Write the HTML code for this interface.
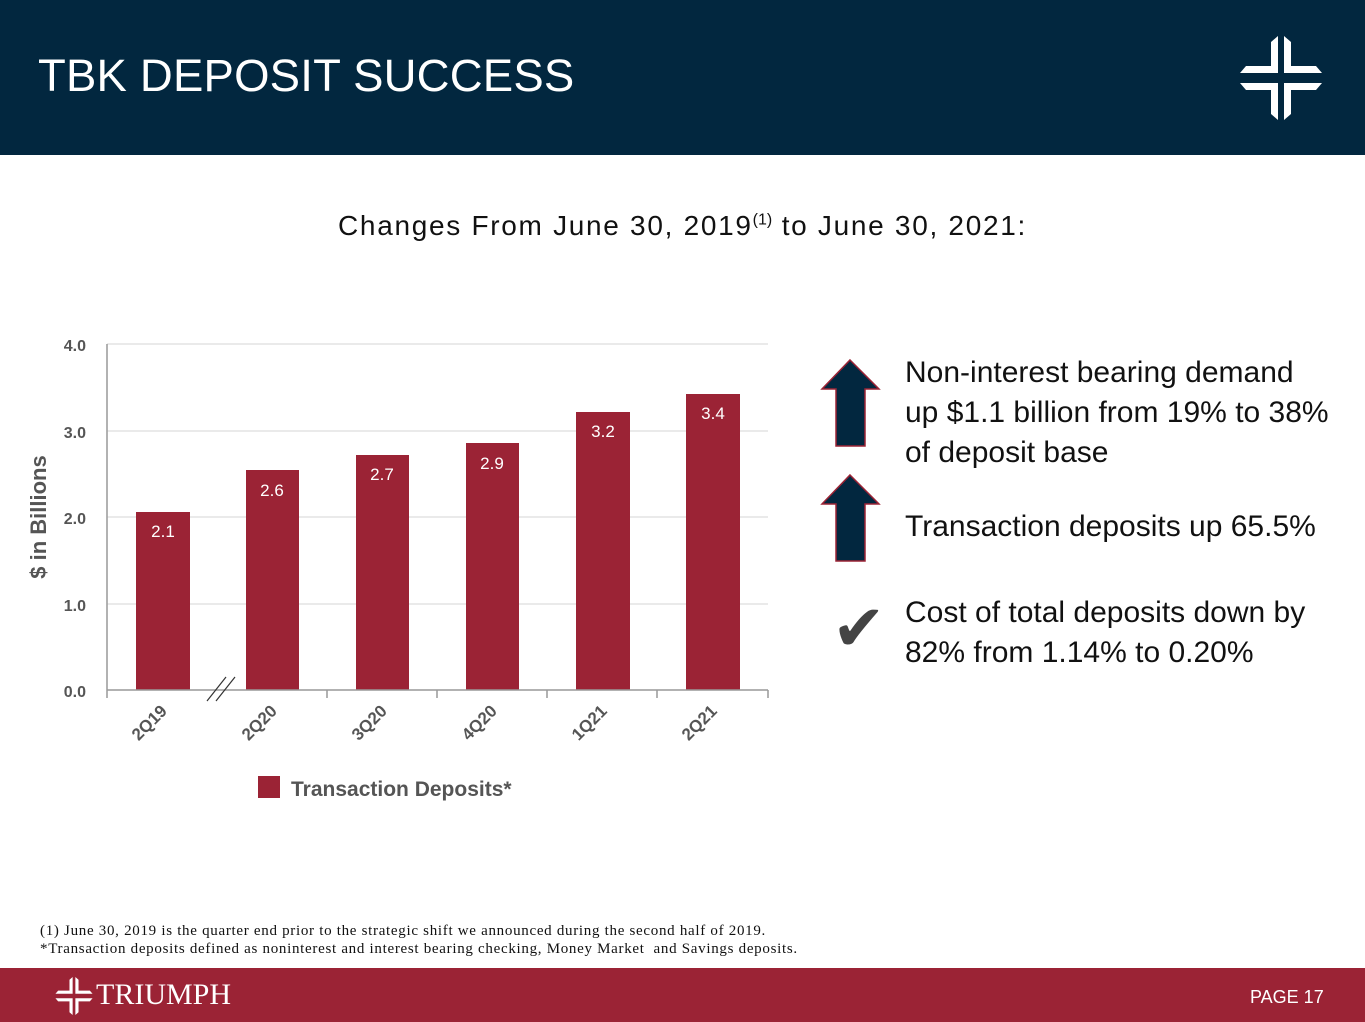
<!DOCTYPE html>
<html><head><style>
body{margin:0;width:1365px;height:1022px;position:relative;background:#fff;font-family:"Liberation Sans",sans-serif;overflow:hidden}
.hdr{position:absolute;left:0;top:0;width:1365px;height:155px;background:#02273f}
.ttl{position:absolute;left:38px;top:50px;color:#fff;font-size:45.5px;letter-spacing:0.2px}
.ftr{position:absolute;left:0;top:968px;width:1365px;height:54px;background:#9b2335}
.t{position:absolute;color:#111;font-size:30px;line-height:40px}
</style></head><body>
<div class="hdr"></div>
<div class="ttl">TBK DEPOSIT SUCCESS</div>
<svg style="position:absolute;left:1238px;top:36px" width="86" height="84" viewBox="0 0 86 84">
<g fill="#fff">
<polygon points="33,6 40,0 40,37 2,37 8,30 33,30"/>
<polygon points="46,0 53,6 53,30 78,30 84,37 46,37"/>
<polygon points="33,78 40,84 40,47 2,47 8,54 33,54"/>
<polygon points="46,84 53,78 53,54 78,54 84,47 46,47"/>
</g></svg>
<div style="position:absolute;left:0;top:210px;width:1365px;text-align:center;font-size:28px;color:#111;letter-spacing:1.7px">Changes From June 30, 2019<sup style="font-size:16px;letter-spacing:0">(1)</sup> to June 30, 2021:</div>
<svg style="position:absolute;left:0;top:0" width="800" height="820">
<g stroke="#e4e4e4" stroke-width="1.5">
<line x1="107" y1="344" x2="768" y2="344"/><line x1="107" y1="431" x2="768" y2="431"/>
<line x1="107" y1="517" x2="768" y2="517"/><line x1="107" y1="604" x2="768" y2="604"/></g>
<g fill="#9b2335">
<rect x="136" y="512" width="54" height="178"/><rect x="246" y="470" width="53" height="220"/>
<rect x="356" y="455" width="53" height="235"/><rect x="466" y="443" width="53" height="247"/>
<rect x="576" y="412" width="54" height="278"/><rect x="686" y="394" width="54" height="296"/></g>
<g stroke="#999" stroke-width="1.5" fill="none">
<line x1="107" y1="344" x2="107" y2="698"/><line x1="107" y1="690" x2="768" y2="690"/>
<line x1="327" y1="690" x2="327" y2="698"/><line x1="437" y1="690" x2="437" y2="698"/>
<line x1="547" y1="690" x2="547" y2="698"/><line x1="657" y1="690" x2="657" y2="698"/><line x1="768" y1="690" x2="768" y2="698"/>
</g>
<g stroke="#333" stroke-width="1.2"><line x1="207" y1="701" x2="226" y2="677"/><line x1="216" y1="701" x2="235" y2="677"/></g>
<g font-family="Liberation Sans" font-weight="bold" font-size="16" fill="#555" text-anchor="end">
<text x="86" y="351">4.0</text><text x="86" y="438">3.0</text><text x="86" y="524">2.0</text><text x="86" y="611">1.0</text><text x="86" y="697">0.0</text></g>
<text transform="translate(46,517) rotate(-90)" text-anchor="middle" font-family="Liberation Sans" font-weight="bold" font-size="22" fill="#555">$ in Billions</text>
<g font-family="Liberation Sans" font-size="17" fill="#fff" text-anchor="middle">
<text x="163" y="537">2.1</text><text x="272" y="496">2.6</text><text x="382" y="480">2.7</text><text x="492" y="469">2.9</text><text x="603" y="437">3.2</text><text x="713" y="419">3.4</text></g>
<g font-family="Liberation Sans" font-weight="bold" font-size="17" fill="#555" text-anchor="end">
<text transform="translate(168,712) rotate(-45)">2Q19</text><text transform="translate(278,712) rotate(-45)">2Q20</text>
<text transform="translate(388,712) rotate(-45)">3Q20</text><text transform="translate(498,712) rotate(-45)">4Q20</text>
<text transform="translate(608,712) rotate(-45)">1Q21</text><text transform="translate(718,712) rotate(-45)">2Q21</text></g>
<rect x="258" y="776" width="22" height="22" fill="#9b2335"/>
<text x="291" y="796" font-family="Liberation Sans" font-weight="bold" font-size="21" fill="#555">Transaction Deposits*</text>
</svg>
<svg style="position:absolute;left:820px;top:358px" width="62" height="210">
<polygon points="30,2 59,31 45,31 45,88 16,88 16,31 2,31" fill="#02273f" stroke="#9b2335" stroke-width="1.5"/>
<polygon points="30,117 59,146 45,146 45,203 16,203 16,146 2,146" fill="#02273f" stroke="#9b2335" stroke-width="1.5"/>
</svg>
<div style="position:absolute;left:832px;top:596px;font-size:64px;color:#444;line-height:64px">✔</div>
<div class="t" style="left:905px;top:353px">Non-interest bearing demand<br>up $1.1 billion from 19% to 38%<br>of deposit base</div>
<div class="t" style="left:905px;top:507px">Transaction deposits up 65.5%</div>
<div class="t" style="left:905px;top:593px">Cost of total deposits down by<br>82% from 1.14% to 0.20%</div>
<div style="position:absolute;left:40px;top:922px;font-family:'Liberation Serif',serif;font-size:15px;letter-spacing:0.7px;line-height:18px;color:#111">(1) June 30, 2019 is the quarter end prior to the strategic shift we announced during the second half of 2019.<br>*Transaction deposits defined as noninterest and interest bearing checking, Money Market&nbsp; and Savings deposits.</div>
<div class="ftr"></div>
<svg style="position:absolute;left:54px;top:977px" width="40" height="38" viewBox="0 0 86 84"><g fill="#fff">
<polygon points="33,6 40,0 40,37 2,37 8,30 33,30"/><polygon points="46,0 53,6 53,30 78,30 84,37 46,37"/>
<polygon points="33,78 40,84 40,47 2,47 8,54 33,54"/><polygon points="46,84 53,78 53,54 78,54 84,47 46,47"/></g></svg>
<div style="position:absolute;left:96px;top:979px;font-family:'Liberation Serif',serif;font-size:30px;color:#fff;line-height:32px">TRIUMPH</div>
<div style="position:absolute;left:1250px;top:987px;font-size:18px;color:#fff">PAGE 17</div>
</body></html>
